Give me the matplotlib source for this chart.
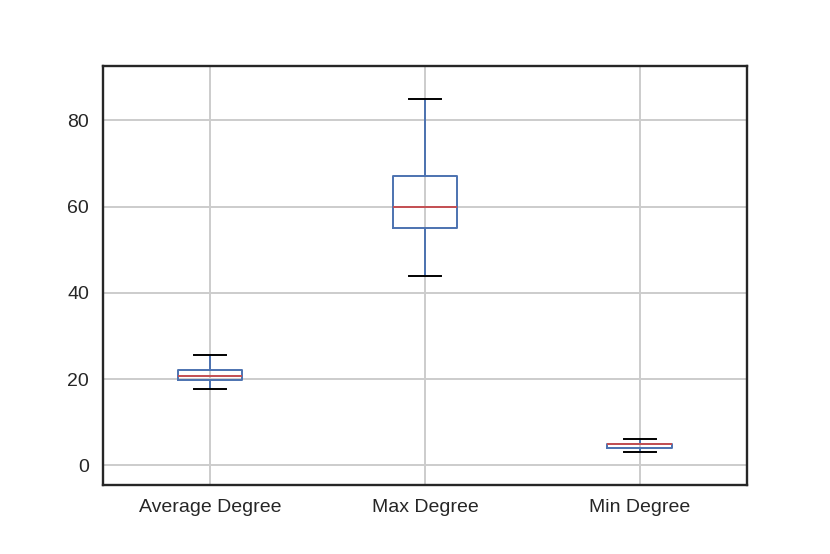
import matplotlib
matplotlib.use("Agg")
import matplotlib.pyplot as plt

# per-column box stats
labels = ["Average Degree", "Max Degree", "Min Degree"]
whislo = [17.7, 44.0, 3.0]
q1 = [19.8, 55.0, 4.0]
med = [20.8, 60.0, 5.0]
q3 = [22.0, 67.0, 5.0]
whishi = [25.5, 85.0, 6.0]

BLUE = "#4C72B0"
RED = "#C44E52"
DARK = "#262626"

plt.rcParams["font.family"] = ["Liberation Sans", "DejaVu Sans"]

stats = [dict(label=l, whislo=a, q1=b, med=c, q3=d, whishi=e, fliers=[])
         for l, a, b, c, d, e in zip(labels, whislo, q1, med, q3, whishi)]

fig = plt.figure(figsize=(8.3, 5.54), dpi=100)
ax = fig.add_axes([0.124, 0.125, 0.776, 0.756])

ax.bxp(stats, positions=[1, 2, 3], widths=0.3, showfliers=False,
       boxprops=dict(color=BLUE, linewidth=1.4),
       whiskerprops=dict(color=BLUE, linewidth=1.4),
       capprops=dict(color="black", linewidth=1.4),
       medianprops=dict(color=RED, linewidth=1.4))

ax.set_xlim(0.5, 3.5)
ax.set_ylim(-4.5, 92.6)
ax.set_yticks([0, 20, 40, 60, 80])
ax.grid(True, color="#cccccc", linewidth=1.4)
ax.set_axisbelow(True)
ax.tick_params(length=0, labelsize=14, colors=DARK, pad=10)
for s in ax.spines.values():
    s.set_color(DARK)
    s.set_linewidth(1.7)

fig.savefig("out.png", dpi=100)
